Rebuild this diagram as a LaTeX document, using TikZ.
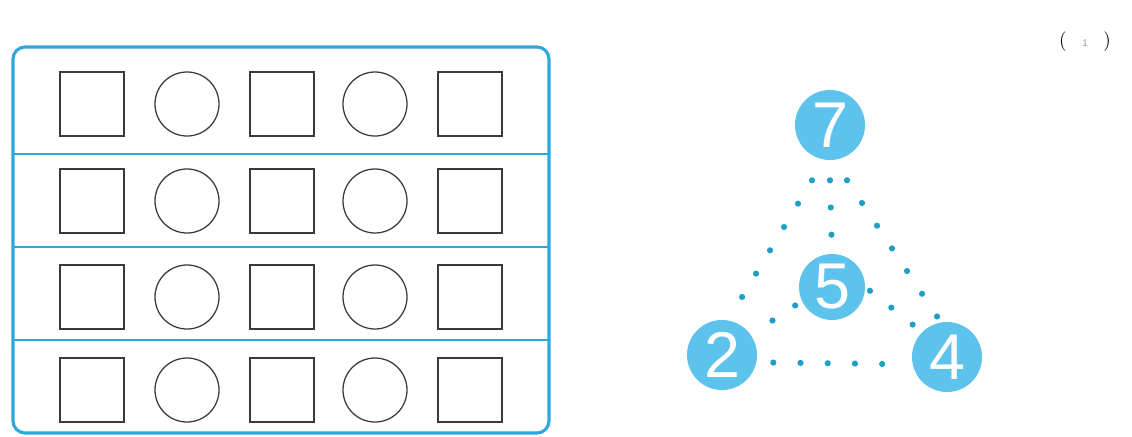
\documentclass[tikz,border=0pt]{standalone}
\usepackage{fontspec}
\setsansfont{Liberation Sans}
\usetikzlibrary{positioning, calc}
\definecolor{cframe}{HTML}{2EA7DC}
\definecolor{cball}{HTML}{5EC3EC}
\definecolor{cdot}{HTML}{1E9FC8}
\definecolor{cink}{HTML}{3A3A3A}
\tikzset{
  every picture/.style={x=0.025cm, y=-0.025cm},
  frame/.style={draw=cframe, line width=2.2pt, rounded corners=0.3cm},
  divider/.style={draw=cframe, line width=1.3pt},
  sqbox/.style={draw=cink, line width=0.9pt, minimum size=1.6cm, inner sep=0pt},
  ring/.style={circle, draw=cink, line width=0.9pt, minimum size=1.6cm, inner sep=0pt},
  ball/.style={circle, fill=cball, minimum size=1.75cm, inner sep=0pt, text=white, font=\sffamily\fontsize{46}{46}\selectfont},
  dots/.style={draw=cdot, line width=4.4pt, line cap=round, dash pattern=on 0pt off 0.68cm},
}

\begin{document}
\begin{tikzpicture}
  \useasboundingbox (0,0) rectangle (1132,436);
  % the answer mark, top right
  \node[font=\fontsize{14}{14}\selectfont] (mark) at (1085,42) {(\hspace{0.8em}{\color{black!40}\scriptsize\sffamily 1}\hspace{0.8em})};
  % the framed grid of squares and circles
  \draw[frame] (13,47) rectangle (549,433);
  \foreach \y in {154,247,340} \draw[divider] (13,\y) -- (549,\y);
  \foreach \r/\y in {1/104, 2/201, 3/297, 4/390} {
    \foreach \k/\x in {1/92, 3/282, 5/470} \node[sqbox] (s\r\k) at (\x,\y) {};
    \foreach \k/\x in {2/187, 4/375} \node[ring] (c\r\k) at (\x,\y) {};
  }
  % the triangle of numbers
  \node[ball] (n7) at (830,125) {7};
  \node[ball, minimum size=1.65cm] (n5) at (832,287) {5};
  \node[ball] (n2) at (722,355) {2};
  \node[ball] (n4) at (947,357) {4};
  \coordinate (tl) at ($(n7.south)+(-18,20)$);
  \coordinate (tm) at ($(n7.south)+(0,20)$);
  \coordinate (tr) at ($(n7.south)+(17,20)$);
  \draw[dots] (tl) -- (n2.80);
  \draw[dots] (tr) -- (n4.100);
  \draw[dots] (tm) -- (n5.north);
  \draw[dots, shorten <=0.42cm, shorten >=0.5cm] (n2.-12) -- (n4.192);
  \draw[dots, shorten <=0.2cm] (n5.205) -- (n2.35);
  \draw[dots, shorten <=0.15cm] (n5.east) -- (n4.north west);
\end{tikzpicture}
\end{document}
